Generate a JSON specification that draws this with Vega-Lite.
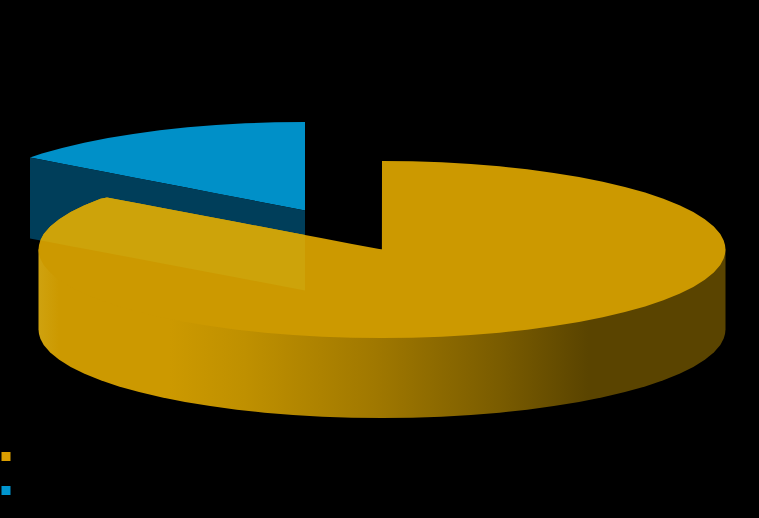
{"$schema":"https://vega.github.io/schema/vega-lite/v6.json","width":759,"height":518,"autosize":{"type":"fit","contains":"padding"},"padding":0,"background":"#000000","config":{"view":{"stroke":null}},
"datasets":{
"blueTop":[{"x":30,"y":157,"y2":157},{"x":41.9,"y":153.1,"y2":159.3},{"x":62.1,"y":147.4,"y2":163.2},{"x":84.2,"y":142.2,"y2":167.4},{"x":108,"y":137.5,"y2":172},{"x":133.2,"y":133.4,"y2":176.9},{"x":159.8,"y":129.8,"y2":182},{"x":187.5,"y":126.8,"y2":187.3},{"x":216.1,"y":124.5,"y2":192.9},{"x":245.4,"y":122.8,"y2":198.5},{"x":275,"y":121.8,"y2":204.2},{"x":305,"y":121.5,"y2":210}],
"blueWall":[{"x":30,"y":157,"y2":238},{"x":305,"y":210,"y2":290}],
"goldSide":[{"x":38.5,"y":249,"y2":329},{"x":39,"y":249,"y2":333.6},{"x":40.4,"y":249,"y2":338.2},{"x":43.7,"y":249,"y2":344.4},{"x":50.2,"y":249,"y2":351.9},{"x":59.2,"y":249,"y2":359.3},{"x":70.7,"y":249,"y2":366.4},{"x":84.5,"y":249,"y2":373.3},{"x":100.6,"y":249,"y2":379.8},{"x":118.9,"y":249,"y2":385.9},{"x":139.1,"y":249,"y2":391.6},{"x":161.2,"y":249,"y2":396.8},{"x":185,"y":249,"y2":401.5},{"x":210.2,"y":249,"y2":405.6},{"x":236.8,"y":249,"y2":409.2},{"x":264.5,"y":249,"y2":412.2},{"x":293.1,"y":249,"y2":414.5},{"x":322.4,"y":249,"y2":416.2},{"x":352,"y":249,"y2":417.2},{"x":382,"y":249,"y2":417.5},{"x":412,"y":249,"y2":417.2},{"x":441.6,"y":249,"y2":416.2},{"x":470.9,"y":249,"y2":414.5},{"x":499.5,"y":249,"y2":412.2},{"x":527.2,"y":249,"y2":409.2},{"x":553.8,"y":249,"y2":405.6},{"x":579,"y":249,"y2":401.5},{"x":602.8,"y":249,"y2":396.8},{"x":624.9,"y":249,"y2":391.6},{"x":645.1,"y":249,"y2":385.9},{"x":663.4,"y":249,"y2":379.8},{"x":679.5,"y":249,"y2":373.3},{"x":693.3,"y":249,"y2":366.4},{"x":704.8,"y":249,"y2":359.3},{"x":713.8,"y":249,"y2":351.9},{"x":720.3,"y":249,"y2":344.4},{"x":723.6,"y":249,"y2":338.2},{"x":725,"y":249,"y2":333.6},{"x":725.5,"y":249,"y2":329}],
"goldTop":[{"x":38.5,"y":249,"y2":249},{"x":39,"y":244.4,"y2":253.6},{"x":40.4,"y":239.8,"y2":258.2},{"x":43.7,"y":233.6,"y2":264.4},{"x":50.2,"y":226.1,"y2":271.9},{"x":59.2,"y":218.7,"y2":279.3},{"x":70.7,"y":211.6,"y2":286.4},{"x":84.5,"y":204.7,"y2":293.3},{"x":100.6,"y":198.2,"y2":299.8},{"x":107,"y":197,"y2":302},{"x":118.9,"y":199.2,"y2":305.9},{"x":139.1,"y":203,"y2":311.6},{"x":161.2,"y":207.2,"y2":316.8},{"x":185,"y":211.7,"y2":321.5},{"x":210.2,"y":216.5,"y2":325.6},{"x":236.8,"y":221.5,"y2":329.2},{"x":264.5,"y":226.8,"y2":332.2},{"x":293.1,"y":232.2,"y2":334.5},{"x":322.4,"y":237.7,"y2":336.2},{"x":352,"y":243.4,"y2":337.2},{"x":381.9,"y":249,"y2":337.5},{"x":382,"y":160.5,"y2":337.5},{"x":412,"y":160.8,"y2":337.2},{"x":441.6,"y":161.8,"y2":336.2},{"x":470.9,"y":163.5,"y2":334.5},{"x":499.5,"y":165.8,"y2":332.2},{"x":527.2,"y":168.8,"y2":329.2},{"x":553.8,"y":172.4,"y2":325.6},{"x":579,"y":176.5,"y2":321.5},{"x":602.8,"y":181.2,"y2":316.8},{"x":624.9,"y":186.4,"y2":311.6},{"x":645.1,"y":192.1,"y2":305.9},{"x":663.4,"y":198.2,"y2":299.8},{"x":679.5,"y":204.7,"y2":293.3},{"x":693.3,"y":211.6,"y2":286.4},{"x":704.8,"y":218.7,"y2":279.3},{"x":713.8,"y":226.1,"y2":271.9},{"x":720.3,"y":233.6,"y2":264.4},{"x":723.6,"y":239.8,"y2":258.2},{"x":725,"y":244.4,"y2":253.6},{"x":725.5,"y":249,"y2":249}],
"overlap":[{"x":40.4,"y":239.8,"y2":240},{"x":43.7,"y":233.6,"y2":240.6},{"x":50.2,"y":226.1,"y2":241.8},{"x":59.2,"y":218.7,"y2":243.5},{"x":70.7,"y":211.6,"y2":245.7},{"x":84.5,"y":204.7,"y2":248.3},{"x":100.6,"y":198.2,"y2":251.3},{"x":107,"y":197,"y2":252.6},{"x":118.9,"y":199.2,"y2":254.8},{"x":139.1,"y":203,"y2":258.6},{"x":161.2,"y":207.2,"y2":262.8},{"x":185,"y":211.7,"y2":267.3},{"x":210.2,"y":216.5,"y2":272.1},{"x":236.8,"y":221.5,"y2":277.1},{"x":264.5,"y":226.8,"y2":282.3},{"x":293.1,"y":232.2,"y2":287.7},{"x":305,"y":234.5,"y2":290}],
"legend":[{"x":6,"y":456,"series":"gold"},{"x":6,"y":490,"series":"blue"}]
},
"layer":[
{"data":{"name":"blueTop"},"mark":{"type":"area","color":"#0090C8","orient":"vertical"},"encoding":{"x":{"field":"x","type":"quantitative","scale":{"domain":[0,759],"nice":false,"zero":false},"axis":null},"y":{"field":"y","type":"quantitative","scale":{"domain":[517.5,-0.5],"nice":false,"zero":false},"axis":null},"y2":{"field":"y2"}}},
{"data":{"name":"blueWall"},"mark":{"type":"area","color":"#003E5A","orient":"vertical"},"encoding":{"x":{"field":"x","type":"quantitative","axis":null},"y":{"field":"y","type":"quantitative","axis":null},"y2":{"field":"y2"}}},
{"data":{"name":"goldSide"},"mark":{"type":"area","orient":"vertical","color":{"gradient":"linear","x1":0,"x2":1,"y1":0,"y2":0,"stops":[{"offset":0,"color":"#CFA20F"},{"offset":0.03,"color":"#CC9900"},{"offset":0.19,"color":"#CC9900"},{"offset":0.3,"color":"#BF9000"},{"offset":0.49,"color":"#A07800"},{"offset":0.67,"color":"#7A5C00"},{"offset":0.8,"color":"#5A4400"},{"offset":1,"color":"#5A4400"}]}},"encoding":{"x":{"field":"x","type":"quantitative","axis":null},"y":{"field":"y","type":"quantitative","axis":null},"y2":{"field":"y2"}}},
{"data":{"name":"goldTop"},"mark":{"type":"area","color":"#CC9900","orient":"vertical"},"encoding":{"x":{"field":"x","type":"quantitative","axis":null},"y":{"field":"y","type":"quantitative","axis":null},"y2":{"field":"y2"}}},
{"data":{"name":"overlap"},"mark":{"type":"area","color":"#CDA30A","orient":"vertical"},"encoding":{"x":{"field":"x","type":"quantitative","axis":null},"y":{"field":"y","type":"quantitative","axis":null},"y2":{"field":"y2"}}},
{"data":{"name":"legend"},"mark":{"type":"point","shape":"square","filled":true,"size":81,"opacity":1},"encoding":{"x":{"field":"x","type":"quantitative","axis":null},"y":{"field":"y","type":"quantitative","axis":null},"color":{"field":"series","type":"nominal","legend":null,"scale":{"domain":["gold","blue"],"range":["#DB9E00","#0095CF"]}}}}
]}
